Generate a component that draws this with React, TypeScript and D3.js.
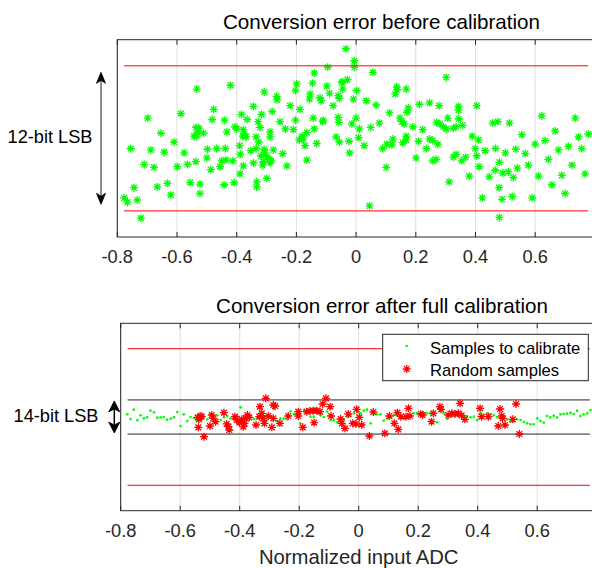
import React from "react";
import * as d3 from "d3";

const xTicks = [-0.8, -0.6, -0.4, -0.2, 0, 0.2, 0.4, 0.6];
const xTickLabels = ["-0.8", "-0.6", "-0.4", "-0.2", "0", "0.2", "0.4", "0.6"];

// Top panel: conversion error before calibration (normalised to 12-bit LSB bounds = ±1)
const beforeX = [
  -0.034, -0.095, -0.14, -0.199, -0.146, -0.048, -0.029, -0.203, -0.098, -0.154,
  -0.089, -0.06, -0.056, -0.121, -0.117, -0.156, -0.077, -0.534, -0.421, -0.308,
  -0.266, -0.265, -0.221, -0.188, -0.344, -0.281, -0.317, -0.384, -0.365, -0.328,
  -0.477, -0.482, -0.441, -0.587, -0.698, -0.255, -0.203, -0.144, -0.11, -0.112,
  -0.06, -0.058, -0.237, -0.21, -0.322, -0.288, -0.288, -0.14, -0.165, -0.181,
  -0.177, -0.19, -0.171, -0.132, -0.067, -0.056, -0.024, -0.022, -0.537, -0.526,
  -0.532, -0.543, -0.511, -0.534, -0.433, -0.406, -0.4, -0.378, -0.374, -0.369,
  -0.38, -0.335, -0.326, -0.39, -0.654, -0.61, -0.755, -0.688, -0.643, -0.576,
  -0.498, -0.467, -0.438, -0.5, -0.388, -0.353, -0.335, -0.308, -0.306, -0.299,
  -0.319, -0.29, -0.311, -0.288, -0.285, -0.277, -0.246, -0.232, -0.313, -0.344,
  -0.378, -0.413, -0.436, -0.45, -0.456, -0.487, -0.537, -0.565, -0.599, -0.71,
  -0.677, -0.389, -0.299, -0.333, -0.333, -0.409, -0.442, -0.523, -0.523, -0.556,
  -0.632, -0.666, -0.744, -0.621, -0.777, -0.766, -0.733, -0.721, -0.165, -0.006,
  -0.006, 0.056, 0.302, -0.045, -0.045, 0.002, -0.009, 0.034, 0.067, 0.136,
  0.138, 0.131, 0.168, 0.212, 0.246, 0.278, 0.343, 0.343, 0.344, 0.404,
  0.175, 0.17, 0.112, 0.147, 0.153, 0.161, 0.19, 0.223, 0.27, 0.281,
  0.307, 0.292, 0.302, 0.326, 0.335, 0.357, 0.0, -0.014, 0.011, 0.049,
  0.078, 0.008, 0.027, 0.089, 0.103, 0.123, 0.12, 0.156, 0.168, 0.168,
  0.209, 0.235, 0.246, 0.257, 0.274, 0.201, 0.101, 0.257, 0.268, 0.335,
  0.326, 0.354, 0.367, 0.389, 0.41, 0.399, 0.404, 0.432, 0.467, 0.458,
  0.475, 0.514, 0.622, 0.734, 0.667, 0.555, 0.633, 0.6, 0.745, 0.778,
  0.711, 0.678, 0.756, 0.5, 0.535, 0.567, 0.644, 0.577, 0.723, 0.767,
  0.689, 0.412, 0.48, 0.466, 0.491, 0.51, 0.527, 0.54, 0.446, 0.379,
  0.312, 0.611, 0.656, 0.7, 0.479, 0.423, 0.489, 0.523, 0.59, 0.045,
  0.48,
];
const beforeY = [
  1.235, 0.98, 0.9, 0.75, 0.76, 0.77, 0.81, 0.66, 0.72, 0.61,
  0.62, 0.59, 0.55, 0.56, 0.52, 0.54, 0.45, 0.68, 0.73, 0.64,
  0.58, 0.53, 0.45, 0.4, 0.44, 0.37, 0.33, 0.33, 0.26, 0.23,
  0.4, 0.26, 0.25, 0.34, 0.28, 0.23, 0.25, 0.28, 0.25, 0.23,
  0.29, 0.22, 0.13, 0.12, 0.15, 0.09, 0.02, 0.13, 0.08, 0.03,
  -0.01, -0.02, -0.1, -0.07, 0.02, -0.05, -0.04, -0.2, 0.15, 0.14,
  0.09, 0.03, 0.07, 0.03, 0.09, 0.16, 0.13, 0.12, 0.06, 0.02,
  0.03, 0.02, -0.05, -0.1, 0.07, -0.05, -0.14, -0.16, -0.19, -0.2,
  -0.15, -0.14, -0.14, -0.27, -0.22, -0.17, -0.14, -0.15, -0.2, -0.25,
  -0.24, -0.29, -0.32, -0.34, -0.31, -0.16, -0.21, -0.38, -0.37, -0.34,
  -0.38, -0.31, -0.3, -0.31, -0.39, -0.43, -0.32, -0.36, -0.39, -0.36,
  -0.4, -0.49, -0.55, -0.6, -0.67, -0.61, -0.64, -0.63, -0.76, -0.61,
  -0.62, -0.67, -0.68, -0.78, -0.82, -0.88, -0.85, -1.1, -0.3, 1.07,
  0.98, 0.91, 0.84, 0.78, 0.68, 0.66, 0.54, 0.52, 0.46, 0.71,
  0.67, 0.61, 0.68, 0.47, 0.49, 0.45, 0.44, 0.39, 0.27, 0.45,
  0.42, 0.36, 0.35, 0.28, 0.23, 0.2, 0.16, 0.12, 0.22, 0.2,
  0.28, 0.16, 0.13, 0.14, 0.16, 0.18, 0.28, 0.2, 0.13, 0.15,
  0.21, 0.01, -0.1, -0.14, -0.08, -0.01, -0.09, -0.06, 0.03, -0.02,
  -0.04, -0.14, -0.01, -0.03, -0.08, -0.27, -0.4, -0.31, -0.29, -0.22,
  -0.26, -0.31, -0.26, 0.03, -0.02, -0.14, -0.24, -0.17, -0.14, 0.21,
  0.23, 0.21, 0.31, 0.28, 0.1, 0.05, -0.03, -0.08, 0.02, 0.06,
  -0.11, -0.16, -0.14, -0.2, -0.15, -0.21, -0.29, -0.37, -0.37, -0.49,
  -0.51, -0.39, -0.33, -0.44, -0.48, -0.46, -0.54, -0.41, -0.53, -0.52,
  -0.6, -0.52, -0.64, -0.76, -0.68, -0.82, -0.84, -0.8, -0.82, -0.93,
  -1.09,
];

// Bottom panel: samples used for calibration (uniform inputs) and random samples
const calX = [
  -0.778, -0.767, -0.756, -0.744, -0.733, -0.722, -0.711, -0.7, -0.688, -0.677,
  -0.666, -0.655, -0.644, -0.632, -0.621, -0.61, -0.599, -0.588, -0.576, -0.565,
  -0.554, -0.543, -0.532, -0.52, -0.509, -0.498, -0.487, -0.476, -0.464, -0.453,
  -0.442, -0.431, -0.42, -0.408, -0.397, -0.386, -0.375, -0.364, -0.352, -0.341,
  -0.33, -0.319, -0.308, -0.296, -0.285, -0.274, -0.263, -0.252, -0.24, -0.229,
  -0.218, -0.207, -0.196, -0.184, -0.173, -0.162, -0.151, -0.14, -0.128, -0.117,
  -0.106, -0.095, -0.084, -0.072, -0.061, -0.05, -0.039, -0.028, -0.016, -0.005,
  0.006, 0.017, 0.028, 0.04, 0.051, 0.062, 0.073, 0.084, 0.096, 0.107,
  0.118, 0.129, 0.14, 0.152, 0.163, 0.174, 0.185, 0.196, 0.208, 0.219,
  0.23, 0.241, 0.252, 0.264, 0.275, 0.286, 0.297, 0.308, 0.32, 0.331,
  0.342, 0.353, 0.364, 0.376, 0.387, 0.398, 0.409, 0.42, 0.432, 0.443,
  0.454, 0.465, 0.476, 0.488, 0.499, 0.51, 0.521, 0.532, 0.544, 0.555,
  0.566, 0.577, 0.588, 0.6, 0.611, 0.622, 0.633, 0.644, 0.656, 0.667,
  0.678, 0.689, 0.7, 0.712, 0.723, 0.734, 0.745, 0.756, 0.768, 0.779,
];
const calY = [
  0.039, -0.029, 0.107, -0.049, 0.024, -0.02, -0.005, 0.093, 0.068, -0.01,
  -0.005, 0.0, -0.039, -0.024, -0.005, 0.073, -0.132, 0.039, -0.059, 0.0,
  -0.015, -0.044, 0.015, 0.005, -0.034, 0.044, -0.024, 0.024, -0.044, -0.005,
  0.015, -0.024, 0.005, 0.015, 0.142, -0.029, -0.005, 0.005, -0.029, -0.02,
  0.015, 0.015, -0.044, -0.01, 0.117, -0.059, -0.024, -0.024, -0.034, 0.083,
  0.044, 0.029, -0.093, 0.102, 0.078, 0.005, 0.005, 0.068, 0.024, 0.0,
  0.078, -0.049, -0.049, -0.078, -0.01, -0.034, 0.005, 0.015, 0.054, 0.078,
  0.054, 0.093, 0.107, -0.093, 0.044, 0.039, 0.039, -0.054, -0.024, -0.005,
  0.024, 0.024, -0.005, -0.024, -0.005, 0.024, 0.054, 0.054, 0.054, 0.054,
  0.054, 0.054, 0.044, -0.078, 0.088, 0.054, -0.024, 0.024, 0.015, 0.039,
  0.02, 0.005, 0.015, -0.005, 0.005, -0.044, 0.054, 0.015, 0.054, 0.044,
  0.024, -0.005, -0.02, -0.005, -0.034, -0.068, -0.059, -0.034, -0.044, -0.073,
  -0.093, -0.107, -0.107, -0.02, -0.059, -0.083, 0.015, -0.005, 0.02, -0.005,
  0.039, 0.044, 0.049, 0.059, 0.044, 0.093, 0.015, 0.039, 0.054, 0.102,
];
const randX = [
  -0.541, -0.533, -0.528, -0.537, -0.539, -0.52, -0.5, -0.494, -0.481, -0.489,
  -0.453, -0.444, -0.438, -0.435, -0.416, -0.41, -0.401, -0.393, -0.388, -0.384,
  -0.379, -0.374, -0.368, -0.345, -0.332, -0.326, -0.334, -0.321, -0.317, -0.312,
  -0.304, -0.292, -0.287, -0.281, -0.287, -0.265, -0.237, -0.203, -0.203, -0.188,
  -0.175, -0.164, -0.153, -0.15, -0.141, -0.13, -0.121, -0.11, -0.096, -0.093,
  -0.061, -0.057, -0.046, -0.035, -0.02, -0.009, -0.007, 0.002, 0.01, 0.049,
  0.036, 0.088, 0.103, 0.12, 0.13, 0.133, 0.142, 0.159, 0.167, 0.172,
  0.209, 0.215, 0.245, 0.251, 0.273, 0.277, 0.301, 0.313, 0.324, 0.335,
  0.341, 0.346, 0.357, 0.408, 0.413, 0.436, 0.475, 0.481, 0.484, 0.469,
  0.492, 0.518, 0.529, 0.54,
];
const randY = [
  -0.005, 0.015, 0.005, -0.034, -0.151, -0.288, -0.132, 0.029, -0.068, -0.02,
  0.063, -0.102, -0.142, -0.19, 0.005, -0.044, -0.083, -0.034, -0.142, -0.093,
  -0.02, 0.029, -0.005, -0.117, 0.151, 0.054, 0.005, -0.02, -0.093, 0.273,
  0.015, -0.151, 0.176, 0.161, -0.02, -0.093, 0.015, 0.078, 0.015, -0.151,
  0.078, 0.088, 0.093, -0.083, 0.093, 0.078, 0.19, 0.273, 0.151, 0.015,
  -0.029, -0.093, -0.166, 0.044, -0.093, -0.102, 0.112, -0.005, -0.117, 0.073,
  -0.278, -0.239, 0.015, -0.093, 0.063, -0.181, 0.005, 0.005, 0.127, 0.015,
  0.044, 0.029, -0.068, 0.054, 0.151, 0.112, 0.029, 0.054, 0.044, 0.054,
  0.2, 0.024, -0.034, 0.127, 0.005, 0.005, 0.117, 0.015, -0.02, -0.132,
  -0.117, -0.034, 0.19, -0.249,
];

const bound12 = [-1, 1];
const bound14 = [-0.25, 0.25];
const boundSpan = [-0.777, 0.777];
const arrow12 = [-0.91, 0.91];
const arrow14 = [-0.235, 0.235];

const titles = ["Conversion error before calibration", "Conversion error after full calibration"];
const xLabelText = "Normalized input ADC";
const legendLabels = ["Samples to calibrate", "Random samples"];
const lsbLabels = ["12-bit LSB", "14-bit LSB"];

const FONT = "'Liberation Sans', Arial, Helvetica, sans-serif";
const AX = "#262626";
const GREEN = "#00ff00";
const RED = "#ff0000";

function starPath(r: number) {
  const d = r * 0.72;
  return `M${-r},0H${r}M0,${-r}V${r}M${-d},${-d}L${d},${d}M${-d},${d}L${d},${-d}`;
}

function Frame({ x, y, labelBaseline }: { x: any; y: any; labelBaseline: number }) {
  const [x0, x1] = x.range();
  const [yb, yt] = y.range();
  return (
    <g>
      {xTicks.map((t, i) => (
        <line key={"g" + i} x1={x(t)} x2={x(t)} y1={yt} y2={yb} stroke="#dfdfdf" strokeWidth={1} />
      ))}
      {xTicks.map((t, i) => (
        <g key={"t" + i}>
          <line x1={x(t)} x2={x(t)} y1={yt} y2={yt + 5} stroke={AX} strokeWidth={1} />
          <line x1={x(t)} x2={x(t)} y1={yb} y2={yb - 5} stroke={AX} strokeWidth={1} />
          <text x={x(t)} y={labelBaseline} textAnchor="middle" fontSize={18.3} fill={AX} fontFamily={FONT}>
            {xTickLabels[i]}
          </text>
        </g>
      ))}
      <rect x={x0} y={yt} width={x1 - x0} height={yb - yt} fill="none" stroke={AX} strokeWidth={1} />
    </g>
  );
}

function ArrowHead({ x, tip, dir, w, len, notch }: { x: number; tip: number; dir: number; w: number; len: number; notch: number }) {
  const d = `M${x},${tip}L${x - w},${tip + dir * len}L${x},${tip + dir * (len - notch)}L${x + w},${tip + dir * len}Z`;
  return <path d={d} fill="#000" stroke="#000" strokeWidth={0.8} strokeLinejoin="miter" />;
}

export default function App() {
  const xTop = d3.scaleLinear().domain([-0.8, 0.8]).range([117.3, 594.9]);
  const yTop = d3.scaleLinear().domain([-1.36, 1.36]).range([237, 39.7]);
  const xBot = d3.scaleLinear().domain([-0.8, 0.8]).range([120.7, 596.7]);
  const yBot = d3.scaleLinear().domain([-1.372, 1.372]).range([510.7, 323.3]);
  const star = starPath(4);

  const ta0 = yTop(arrow12[1]);
  const ta1 = yTop(arrow12[0]);
  const ba0 = yBot(arrow14[1]);
  const ba1 = yBot(arrow14[0]);

  return (
    <svg width={592} height={568} style={{ position: "absolute", left: 0, top: 0, background: "#fff" }}>
      <rect width={592} height={568} fill="#fff" />

      {/* ---------- Top panel ---------- */}
      <Frame x={xTop} y={yTop} labelBaseline={263} />
      {beforeX.map((v, i) => (
        <path key={"b" + i} d={star} transform={`translate(${xTop(v)},${yTop(beforeY[i])})`} stroke={GREEN} strokeWidth={1.3} fill="none" />
      ))}
      {bound12.map((b, i) => (
        <line key={"r1" + i} x1={xTop(boundSpan[0])} x2={xTop(boundSpan[1])} y1={yTop(b)} y2={yTop(b)} stroke={RED} strokeWidth={1} />
      ))}
      <text x={381.5} y={29} textAnchor="middle" fontSize={20.6} fill="#000" fontFamily={FONT}>
        {titles[0]}
      </text>
      <line x1={101} x2={101} y1={ta0 + 8} y2={ta1 - 8} stroke="#666" strokeWidth={1.5} />
      <ArrowHead x={101} tip={ta0} dir={1} w={4.5} len={11} notch={3} />
      <ArrowHead x={101} tip={ta1} dir={-1} w={4.5} len={11} notch={3} />
      <text x={50} y={143} textAnchor="middle" fontSize={18.2} fill="#000" fontFamily={FONT}>
        {lsbLabels[0]}
      </text>

      {/* ---------- Bottom panel ---------- */}
      <Frame x={xBot} y={yBot} labelBaseline={537} />
      {bound12.map((b, i) => (
        <line key={"r2" + i} x1={xBot(boundSpan[0])} x2={xBot(boundSpan[1])} y1={yBot(b)} y2={yBot(b)} stroke={RED} strokeWidth={1} />
      ))}
      {bound14.map((b, i) => (
        <line key={"k2" + i} x1={xBot(boundSpan[0])} x2={xBot(boundSpan[1])} y1={yBot(b)} y2={yBot(b)} stroke={AX} strokeWidth={1} />
      ))}
      {calX.map((v, i) => (
        <circle key={"c" + i} cx={xBot(v)} cy={yBot(calY[i])} r={1.35} fill={GREEN} />
      ))}
      {randX.map((v, i) => (
        <path key={"s" + i} d={star} transform={`translate(${xBot(v)},${yBot(randY[i])})`} stroke={RED} strokeWidth={1.3} fill="none" />
      ))}
      <text x={382} y={312.5} textAnchor="middle" fontSize={20.6} fill="#000" fontFamily={FONT}>
        {titles[1]}
      </text>
      <text x={xBot(0)} y={564} textAnchor="middle" fontSize={20.3} fill={AX} fontFamily={FONT}>
        {xLabelText}
      </text>
      <line x1={114.3} x2={114.3} y1={ba0 + 8} y2={ba1 - 8} stroke="#000" strokeWidth={1.5} />
      <ArrowHead x={114.3} tip={ba0} dir={1} w={5.6} len={11} notch={3} />
      <ArrowHead x={114.3} tip={ba1} dir={-1} w={5.6} len={11} notch={3} />
      <text x={56} y={422} textAnchor="middle" fontSize={18.2} fill="#000" fontFamily={FONT}>
        {lsbLabels[1]}
      </text>

      {/* legend */}
      <g>
        <rect x={382.7} y={334.3} width={205.6} height={46.4} fill="#fff" stroke={AX} strokeWidth={1} />
        <circle cx={406.7} cy={346} r={1.35} fill={GREEN} />
        <path d={star} transform="translate(406.7,369)" stroke={RED} strokeWidth={1.3} fill="none" />
        <text x={430} y={354} fontSize={16.6} fill="#000" fontFamily={FONT}>
          {legendLabels[0]}
        </text>
        <text x={430} y={375.5} fontSize={16.6} fill="#000" fontFamily={FONT}>
          {legendLabels[1]}
        </text>
      </g>
    </svg>
  );
}
